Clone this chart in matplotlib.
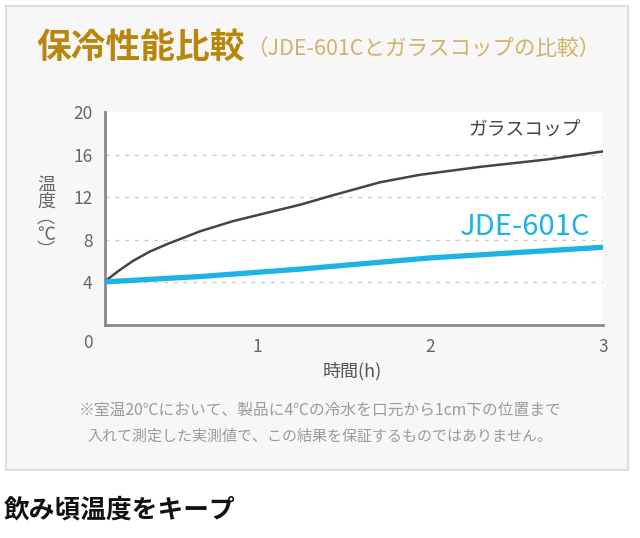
import matplotlib
matplotlib.use("Agg")
import matplotlib.pyplot as plt
from matplotlib.patches import Rectangle

plt.rcParams['font.family'] = ['Noto Sans CJK JP', 'DejaVu Sans']

# Data
glass_x = [0.12, 0.2, 0.28, 0.38, 0.48, 0.67, 0.86, 1.06, 1.25, 1.42, 1.71, 1.94, 2.29, 2.68, 3.0]
glass_y = [4.1, 5.1, 6.0, 6.9, 7.6, 8.8, 9.75, 10.55, 11.3, 12.1, 13.4, 14.1, 14.85, 15.55, 16.3]
jde_x = [0.12, 0.67, 1.25, 2.0, 3.0]
jde_y = [4.05, 4.55, 5.25, 6.3, 7.3]
x_ticks = [1, 2, 3]
y_ticks = [4, 8, 12, 16, 20]
series_names = ['ガラスコップ', 'JDE-601C']

W, H = 640, 538
fig = plt.figure(figsize=(W / 100, H / 100), dpi=100)
fig.patch.set_facecolor('white')

def fx(px):
    return px / W

def fy(py):
    return 1 - py / H

# panel background
panel = Rectangle((fx(6), fy(470)), fx(628) - fx(6), fy(6) - fy(470),
                  transform=fig.transFigure, facecolor='#f7f7f7',
                  edgecolor='#dedede', linewidth=1.5, zorder=-10)
fig.patches.append(panel)

ax = fig.add_axes([fx(105), fy(325), fx(603) - fx(105), fy(112) - fy(325)])
ax.set_zorder(5)
ax.set_facecolor('white')
ax.set_xlim(0.12, 3.0)
ax.set_ylim(0, 20)

ax.plot(glass_x, glass_y, color='#444444', lw=1.8, solid_capstyle='round',
        solid_joinstyle='round', zorder=3)
ax.plot(jde_x, jde_y, color='#1fb2e6', lw=3.8, solid_capstyle='butt',
        solid_joinstyle='round', zorder=4)

for v in [4, 8, 12, 16]:
    ax.axhline(v, color='#cccccc', lw=1.0, ls=(0, (3, 4)), zorder=1)

for s in ['top', 'right']:
    ax.spines[s].set_visible(False)
for s in ['left', 'bottom']:
    ax.spines[s].set_color('#888888')
    ax.spines[s].set_linewidth(2)

ax.set_xticks(x_ticks)
ax.set_xticklabels([str(t) for t in x_ticks])
ax.set_yticks(y_ticks)
ax.set_yticklabels([str(t) for t in y_ticks])
ax.tick_params(axis='both', length=0, labelsize=12.5, colors='#666666')
ax.tick_params(axis='x', pad=9)
ax.tick_params(axis='y', pad=9)

# corner "0"
fig.text(fx(88), fy(343), '0', ha='center', va='center', fontsize=12.5, color='#666666')

ax.text(2.87, 17.3, series_names[0], ha='right', va='bottom', fontsize=13.5, color='#444444')
ax.text(2.93, 7.8, series_names[1], ha='right', va='bottom', fontsize=21, color='#1fb2e6')

# y label stacked vertically
fig.text(fx(46), fy(218), '温\n度\n︵\n℃\n︶', ha='center', va='center', fontsize=13,
         color='#666666', linespacing=0.9)

fig.text(fx(352), fy(371), '時間(h)', ha='center', va='center', fontsize=13, color='#555555')

# titles
fig.text(fx(36), fy(47), '保冷性能比較', ha='left', va='center', fontsize=25,
         color='#b8860b', fontweight='bold')
fig.text(fx(246), fy(49), '（JDE-601Cとガラスコップの比較）', ha='left', va='center',
         fontsize=15.5, color='#d2b26a')

fig.text(fx(320), fy(410), '※室温20℃において、製品に4℃の冷水を口元から1cm下の位置まで',
         ha='center', va='center', fontsize=11.3, color='#9a9a9a')
fig.text(fx(320), fy(437), '入れて測定した実測値で、この結果を保証するものではありません。',
         ha='center', va='center', fontsize=10.8, color='#9a9a9a')

fig.text(fx(4), fy(510), '飲み頃温度をキープ', ha='left', va='center', fontsize=18.5,
         color='#111111', fontweight='bold')

fig.savefig('out.png', dpi=100, facecolor='white')
